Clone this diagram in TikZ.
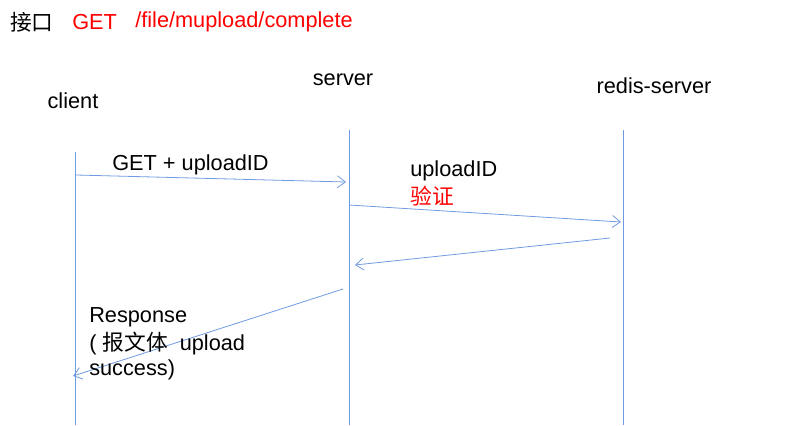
\documentclass[tikz,border=0pt]{standalone}
\usepackage{fontspec}
\setmainfont{Liberation Sans}
\newfontfamily\cjk{Noto Sans CJK SC}
\usetikzlibrary{arrows.meta}
\definecolor{lineblue}{RGB}{110,155,225}
\definecolor{txtred}{RGB}{255,0,0}
\tikzset{
  lbl/.style={inner sep=0pt, font=\fontsize{16.3pt}{19.5pt}\selectfont},
  lbll/.style={lbl, anchor=west},
  life/.style={draw=lineblue, line width=0.6pt},
  msg/.style={draw=lineblue, line width=0.6pt, -{Straight Barb[length=6pt,width=9pt,line width=0.6pt]}}
}
\begin{document}
\begin{tikzpicture}[x=0.75pt,y=-0.75pt]
\useasboundingbox (0,0) rectangle (806,425);
% title
\node[lbll] (t1) at (10,22) {\cjk 接口};
\node[lbll, text=txtred] (t2) at (72,22) {GET};
\node[lbll, text=txtred] (t3) at (135,22) {/file/mupload/complete};
% participants
\node[lbl] (pc) at (73,101) {client};
\node[lbl] (ps) at (343,80) {server};
\node[lbl] (pr) at (654,86) {redis-server};
% lifelines
\coordinate (c0) at (75,152); \coordinate (c1) at (75,425);
\coordinate (s0) at (349,130); \coordinate (s1) at (349,425);
\coordinate (r0) at (623,130); \coordinate (r1) at (623,425);
\draw[life] (c0) -- (c1);
\draw[life] (s0) -- (s1);
\draw[life] (r0) -- (r1);
% messages
\coordinate (m1a) at (76,175); \coordinate (m1b) at (346,182);
\coordinate (m2a) at (349,205); \coordinate (m2b) at (621,222);
\coordinate (m3a) at (610,238); \coordinate (m3b) at (355,265);
\coordinate (m4a) at (343,289); \coordinate (m4b) at (73,376);
\draw[msg] (m1a) -- (m1b);
\draw[msg] (m2a) -- (m2b);
\draw[msg] (m3a) -- (m3b);
\draw[msg] (m4a) -- (m4b);
% labels
\node[lbll] (l1) at (112,165) {GET + uploadID};
\node[lbll] (l2) at (410,171) {uploadID};
\node[lbll, text=txtred] (l3) at (410,196) {\cjk 验证};
\node[lbll] (l4) at (89,317) {Response};
\node[lbll] (l5) at (89,344) {( {\cjk 报文体}\ \ upload};
\node[lbll] (l6) at (89,370) {success)};
\end{tikzpicture}
\end{document}
